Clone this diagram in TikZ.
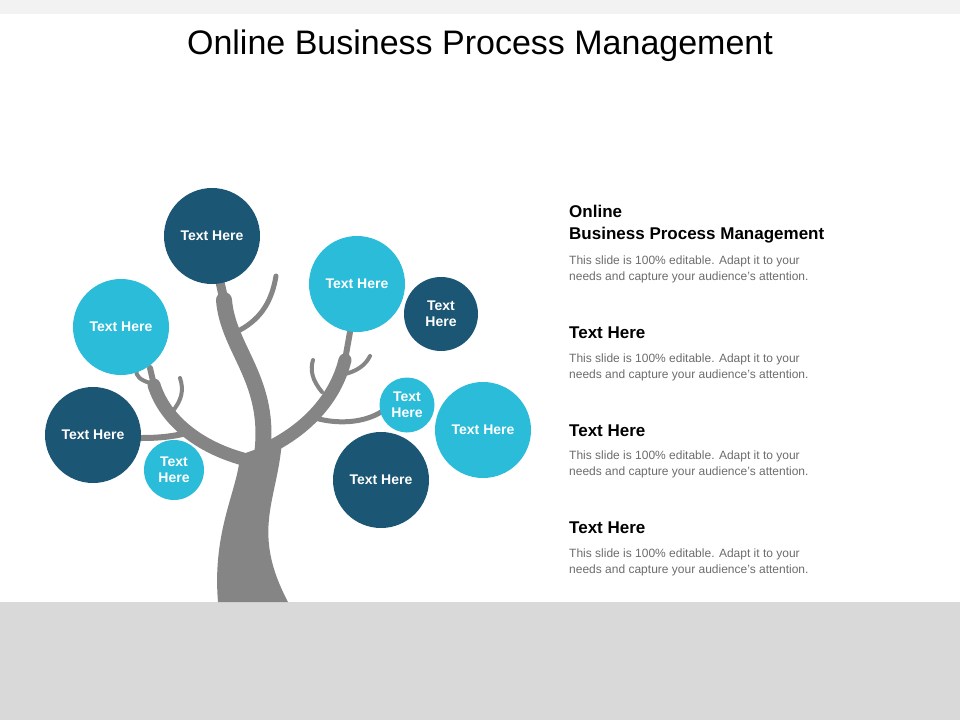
\documentclass[tikz,border=0pt]{standalone}
\usepackage{fontspec}
\setmainfont{Liberation Sans}
\definecolor{dk}{HTML}{1B5674}
\definecolor{lt}{HTML}{2ABCD8}
\definecolor{tr}{HTML}{858585}
\begin{document}
\begin{tikzpicture}[x=1pt,y=-1pt,
  bub/.style={circle,minimum size=#1,inner sep=0pt,text=white,font=\fontsize{14}{16}\selectfont\bfseries,align=center},
  br/.style={draw=tr,line cap=round,line width=#1},
  head/.style={anchor=north west,font=\fontsize{17}{22}\selectfont\bfseries,align=left,inner sep=0pt},
  body/.style={anchor=north west,font=\fontsize{12}{16}\selectfont,text=gray!85!black,align=left,inner sep=0pt}]
\useasboundingbox (0,0) rectangle (960,720);
\fill[gray!10] (0,0) rectangle (960,14);
\fill[gray!30] (0,602) rectangle (960,720);
\node (title) at (480,46) {\fontsize{34}{40}\selectfont Online Business Process Management};
% tree
\fill[tr] (218,602) .. controls (212,530) and (238,490) .. (240,455)
  -- (282,440) .. controls (278,500) and (250,530) .. (288,602) -- cycle;
\draw[br=16] (262,455) .. controls (272,380) and (228,350) .. (224,300);
\draw[br=9] (224,300) -- (220,282);
\draw[br=5] (240,330) .. controls (262,318) and (272,300) .. (276,276);
\draw[br=13] (255,462) .. controls (200,450) and (165,420) .. (154,385);
\draw[br=6] (154,385) -- (150,368);
\draw[br=4] (150,383) .. controls (140,380) and (136,376) .. (136,370);
\draw[br=4] (172,412) .. controls (182,400) and (184,390) .. (180,378);
\draw[br=6] (190,432) .. controls (170,438) and (150,438) .. (140,438);
\draw[br=13] (268,448) .. controls (305,430) and (335,400) .. (345,360);
\draw[br=6] (345,360) -- (350,332);
\draw[br=4] (322,392) .. controls (312,380) and (310,370) .. (313,360);
\draw[br=4] (340,375) .. controls (358,372) and (366,364) .. (370,356);
\draw[br=5] (315,418) .. controls (340,425) and (365,422) .. (381,412);
% bubbles
\node[bub=96pt,fill=dk] (a) at (212,236) {Text Here};
\node[bub=96pt,fill=lt] (b) at (121,327) {Text Here};
\node[bub=96pt,fill=dk] (c) at (93,435) {Text Here};
\node[bub=60pt,fill=lt] (d) at (174,470) {Text\\Here};
\node[bub=96pt,fill=lt] (e) at (357,284) {Text Here};
\node[bub=74pt,fill=dk] (f) at (441,314) {Text\\Here};
\node[bub=55pt,fill=lt] (g) at (407,405) {Text\\Here};
\node[bub=96pt,fill=lt] (h) at (483,430) {Text Here};
\node[bub=96pt,fill=dk] (i) at (381,480) {Text Here};
% right text
\node[head] (h1) at (569,205) {Online\\Business Process Management};
\node[body] (b1) at (569,256) {This slide is 100\% editable. Adapt it to your\\needs and capture your audience's attention.};
\node[head] (h2) at (569,327) {Text Here};
\node[body] (b2) at (569,354) {This slide is 100\% editable. Adapt it to your\\needs and capture your audience's attention.};
\node[head] (h3) at (569,425) {Text Here};
\node[body] (b3) at (569,451) {This slide is 100\% editable. Adapt it to your\\needs and capture your audience's attention.};
\node[head] (h4) at (569,522) {Text Here};
\node[body] (b4) at (569,549) {This slide is 100\% editable. Adapt it to your\\needs and capture your audience's attention.};
\end{tikzpicture}
\end{document}
